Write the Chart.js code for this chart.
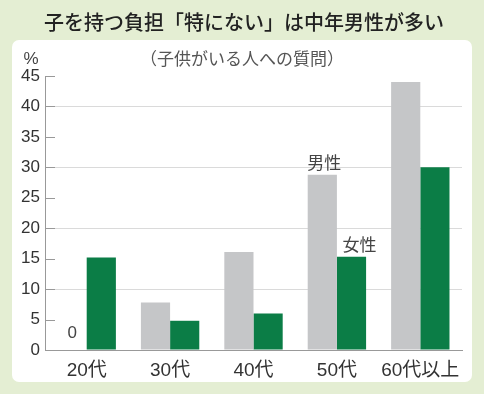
<!DOCTYPE html>
<html>
<head>
<meta charset="utf-8">
<style>
  html, body { margin: 0; padding: 0; background: #e4eed3; }
  #wrap { width: 484px; height: 394px; }
</style>
<script src="https://cdn.jsdelivr.net/npm/chart.js@4/dist/chart.umd.min.js"></script>
</head>
<body>
<div id="wrap"><canvas id="myChart" width="484" height="394"></canvas></div>
<script>
// data
const categories = ['20代', '30代', '40代', '50代', '60代以上'];
const maleValues = [0, 7.8, 16.1, 28.8, 44.0];
const femaleValues = [15.2, 4.8, 6.0, 15.3, 30.0];
const yMax = 45;
const yStep = 5;

const titleText = '子を持つ負担「特にない」は中年男性が多い';
const subtitleText = '（子供がいる人への質問）';

const FONT = '"Liberation Sans", "Noto Sans CJK JP", sans-serif';
const CJK = '"Noto Sans CJK JP", sans-serif';

// background, white panel and texts around the plot
const framePlugin = {
    id: 'frame',
    beforeDraw(chart) {
        const c = chart.ctx;
        c.save();
        c.fillStyle = '#e4eed3';
        c.fillRect(0, 0, chart.width, chart.height);
        c.fillStyle = '#ffffff';
        c.beginPath();
        c.roundRect(12, 40, 460, 342, 7);
        c.fill();
        c.restore();
    },
    afterDraw(chart) {
        const c = chart.ctx;
        const y = chart.scales.y;
        const area = chart.chartArea;
        c.save();

        // short inner tick marks on the y axis
        c.strokeStyle = '#999';
        c.lineWidth = 1;
        y.ticks.forEach(t => {
            if (t.value === 0) return;
            const py = Math.round(y.getPixelForValue(t.value)) + 0.5;
            c.beginPath();
            c.moveTo(area.left, py);
            c.lineTo(area.left + 10, py);
            c.stroke();
        });

        c.textAlign = 'center';
        c.textBaseline = 'middle';
        c.fillStyle = '#222';
        c.font = '500 20px ' + CJK;
        c.fillText(titleText, 244, 22);

        c.fillStyle = '#555';
        c.font = '17px ' + CJK;
        c.fillText(subtitleText, 242, 59);

        c.fillStyle = '#444';
        c.font = '17px ' + FONT;
        c.fillText('%', 31, 59);

        // labels on the bars
        const male = chart.getDatasetMeta(0).data;
        const female = chart.getDatasetMeta(1).data;
        c.font = '17px ' + FONT;
        c.fillText(String(maleValues[0]), male[0].x, male[0].y - 17);
        c.font = '17px ' + CJK;
        c.fillText('男性', male[3].x + 2, male[3].y - 12);
        c.fillText('女性', female[3].x + 8, female[3].y - 12);
        c.restore();
    }
};

const ctx = document.getElementById('myChart').getContext('2d');
const myChart = new Chart(ctx, {
    type: 'bar',
    data: {
        labels: categories,
        datasets: [
            {
                label: '男性',
                data: maleValues,
                backgroundColor: '#c5c6c8',
                categoryPercentage: 0.7,
                barPercentage: 1.0,
            },
            {
                label: '女性',
                data: femaleValues,
                backgroundColor: '#0b7d46',
                categoryPercentage: 0.7,
                barPercentage: 1.0,
            },
        ],
    },
    options: {
        responsive: false,
        animation: false,
        layout: {
            padding: { left: 0, right: 22, top: 76, bottom: 0 },
        },
        plugins: {
            legend: { display: false },
            tooltip: { enabled: false },
        },
        scales: {
            x: {
                grid: { display: false },
                border: { color: '#999' },
                ticks: {
                    color: '#333',
                    font: { size: 19, family: FONT },
                    padding: 1,
                    maxRotation: 0,
                    minRotation: 0,
                    autoSkip: false,
                },
                afterFit: s => { s.height = 44; },
            },
            y: {
                min: 0,
                max: yMax,
                grid: {
                    drawTicks: false,
                    color: c => (c.tick && c.tick.value % 10 === 0 && c.tick.value !== 0) ? '#dadada' : 'rgba(0,0,0,0)',
                },
                border: { color: '#999' },
                ticks: {
                    stepSize: yStep,
                    color: '#333',
                    font: { size: 17, family: FONT },
                    padding: 5,
                },
                afterFit: s => { s.width = 45; },
            },
        },
    },
    plugins: [framePlugin],
});
</script>
</body>
</html>
